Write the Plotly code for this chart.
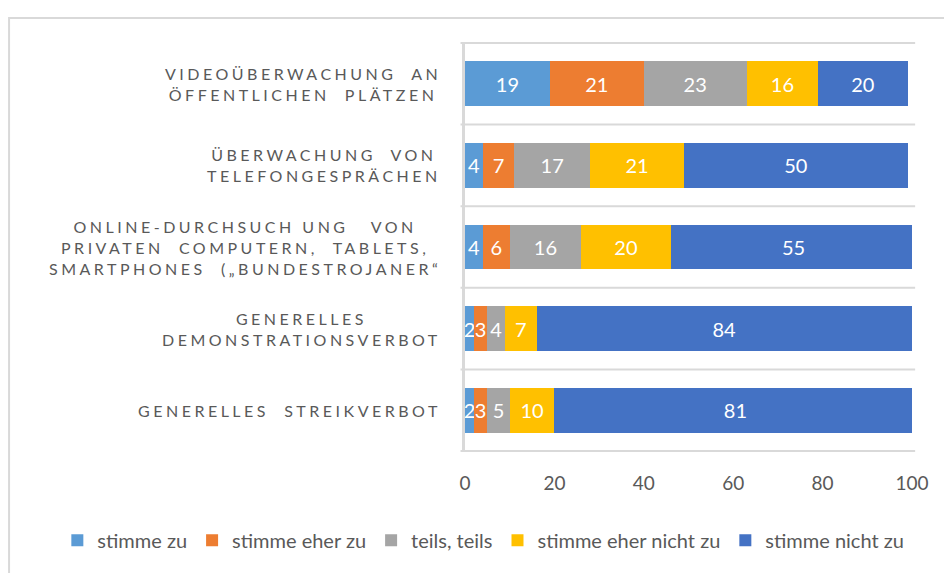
import plotly.graph_objects as go

categories = [
    "Videoüberwachung an öffentlichen Plätzen",
    "Überwachung von Telefongesprächen",
    "Online-Durchsuchung von privaten Computern",
    "Generelles Demonstrationsverbot",
    "Generelles Streikverbot",
]
category_lines = [
    ["VIDEOÜBERWACHUNG  AN", "ÖFFENTLICHEN  PLÄTZEN"],
    ["ÜBERWACHUNG  VON", "TELEFONGESPRÄCHEN"],
    ["ONLINE-DURCHSUCH UNG   VON", "PRIVATEN  COMPUTERN,  TABLETS,", "SMARTPHONES  („BUNDESTROJANER“"],
    ["GENERELLES", "DEMONSTRATIONSVERBOT"],
    ["GENERELLES  STREIKVERBOT"],
]

series_names = ["stimme zu", "stimme eher zu", "teils, teils", "stimme eher nicht zu", "stimme nicht zu"]
stimme_zu = [19, 4, 4, 2, 2]
stimme_eher_zu = [21, 7, 6, 3, 3]
teils_teils = [23, 17, 16, 4, 5]
stimme_eher_nicht_zu = [16, 21, 20, 7, 10]
stimme_nicht_zu = [20, 50, 55, 84, 81]
series_values = [stimme_zu, stimme_eher_zu, teils_teils, stimme_eher_nicht_zu, stimme_nicht_zu]
colors = ["#5B9BD5", "#ED7D31", "#A5A5A5", "#FFC000", "#4472C4"]

x_ticks = [0, 20, 40, 60, 80, 100]

grey = "#595959"
font = "Lato"

fig = go.Figure()
for name, vals, col in zip(series_names, series_values, colors):
    fig.add_trace(go.Bar(
        y=categories, x=vals, name=name, orientation="h",
        marker=dict(color=col, line=dict(width=0)),
        text=vals, textposition="inside", insidetextanchor="middle",
        textangle=0, textfont=dict(color="white", size=20, family=font),
        hoverinfo="x+name",
    ))

# Trennlinien zwischen den Kategorien
shapes = []
for i in range(len(categories) + 1):
    shapes.append(dict(type="line", xref="paper", yref="y", x0=-0.01, x1=1.007,
                       y0=i - 0.5, y1=i - 0.5, line=dict(color="#d9d9d9", width=2), layer="below"))
# aeusserer Rahmen
shapes.append(dict(type="rect", xref="paper", yref="paper", x0=-1.02, x1=1.2, y0=-0.6, y1=1.0585,
                   line=dict(color="#d9d9d9", width=2), fillcolor="rgba(0,0,0,0)", layer="below"))

annotations = []
for cat, lines in zip(categories, category_lines):
    lab = "<br>".join('<span style="letter-spacing:3.5px">%s</span>' % l for l in lines)
    annotations.append(dict(x=0, xref="paper", y=cat, yref="y", text=lab, showarrow=False,
                            xanchor="right", xshift=-22, align="center",
                            font=dict(size=16, color=grey, family=font)))

fig.update_layout(
    width=944, height=565, autosize=False,
    barmode="stack", bargap=0.45,
    plot_bgcolor="white", paper_bgcolor="white",
    margin=dict(l=457, r=40, t=34, b=121, autoexpand=False),
    font=dict(family=font, color=grey),
    xaxis=dict(range=[0, 100], tickvals=x_ticks, showgrid=False, zeroline=False, showline=False,
               ticks="outside", ticklen=14, tickcolor="rgba(0,0,0,0)",
               tickfont=dict(size=19, color=grey, family=font), fixedrange=True),
    yaxis=dict(type="category", categoryorder="array", categoryarray=categories, autorange="reversed",
               showticklabels=False, showgrid=False, zeroline=False,
               showline=True, linecolor="#d9d9d9", linewidth=3, fixedrange=True),
    legend=dict(orientation="h", x=-0.912, xanchor="left",
                y=-0.215, yanchor="middle", itemwidth=30,
                font=dict(size=20, color=grey, family=font), traceorder="normal"),
    uniformtext=dict(minsize=20, mode="show"),
    shapes=shapes,
    annotations=annotations,
)

fig.write_html("out.html")
